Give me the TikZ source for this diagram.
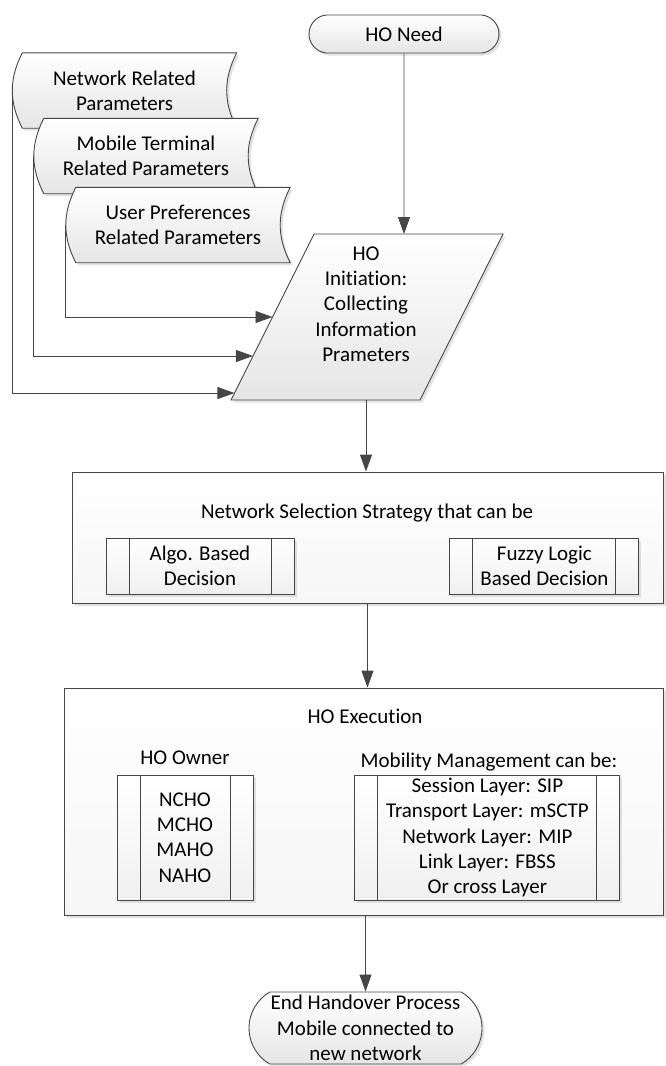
\documentclass[tikz,border=0pt]{standalone}
\usepackage{fontspec}
\setmainfont{Carlito}[Ligatures=NoCommon]
\usetikzlibrary{shapes.misc, arrows.meta, shadows, backgrounds, calc, positioning}

\definecolor{linegray}{RGB}{70,70,70}

\tikzset{
softshadow/.style={drop shadow={shadow xshift=2.5pt, shadow yshift=-2.5pt, fill=gray!45, opacity=0.5}}, % light offset shadow
term/.style={rounded rectangle, draw=linegray, line width=0.9pt, top color=white, bottom color=gray!20, softshadow, inner sep=0pt, align=center}, % start / end
storebox/.style={rectangle, minimum width=224pt, minimum height=75pt, inner sep=0pt, align=center}, % stored data, outline drawn below
shapeline/.style={draw=linegray, line width=0.9pt, top color=white, bottom color=gray!20, softshadow},
bigbox/.style={rectangle, draw=linegray, line width=0.9pt, top color=white, bottom color=gray!7, softshadow},
subproc/.style={rectangle, draw=linegray, line width=0.9pt, top color=white, bottom color=gray!12, softshadow, align=center, inner sep=0pt,
  path picture={\draw[linegray, line width=0.9pt]
    ([xshift=23pt]path picture bounding box.north west) -- ([xshift=23pt]path picture bounding box.south west)
    ([xshift=-23pt]path picture bounding box.north east) -- ([xshift=-23pt]path picture bounding box.south east);}},
txt/.style={align=center, inner sep=0pt},
flow/.style={draw=linegray, line width=0.9pt, -{Triangle[length=17pt,width=12pt]}},
}

% outline of a stored data node
\newcommand{\storeoutline}[1]{%
  \draw[shapeline] ([xshift=10pt]#1.north west) -- (#1.north east)
    to[bend right=27] (#1.south east) -- ([xshift=10pt]#1.south west)
    to[bend left=27] ([xshift=10pt]#1.north west) -- cycle;}

\begin{document}
\begin{tikzpicture}[x=1pt, y=1pt, font=\fontsize{21}{25.3}\selectfont]
    \useasboundingbox (0,0) rectangle (665,-1066);

    \node[term, minimum width=190pt, minimum height=38pt, rounded rectangle arc length=170] (need) at (404,-34) {HO Need};

    % parameter stores
    \node[storebox] (netpar) at (124.5,-90.5) {Network Related\\Parameters};
    \begin{scope}[on background layer] \storeoutline{netpar} \end{scope}
    \node[storebox] (mobpar) at (146,-156) {Mobile Terminal\\Related Parameters};
    \begin{scope}[on background layer] \storeoutline{mobpar} \end{scope}
    \node[storebox] (usrpar) at (178,-225) {User Preferences\\Related Parameters};
    \begin{scope}[on background layer] \storeoutline{usrpar} \end{scope}

    % HO initiation (data)
    \coordinate (pTL) at (314,-234);
    \coordinate (pTR) at (503,-234);
    \coordinate (pBR) at (420,-400);
    \coordinate (pBL) at (231,-400);
    \draw[shapeline] (pTL) -- (pTR) -- (pBR) -- (pBL) -- cycle;
    \node[txt] (init) at (366,-304) {HO\\Initiation:\\Collecting\\Information\\Prameters};
    \coordinate (in1) at ($(pBL)!0.5!(pTL)$);
    \coordinate (in2) at ($(pBL)!0.265!(pTL)$);
    \coordinate (in3) at ($(pBL)!0.042!(pTL)$);
    \coordinate (pOut) at (366,-400);

    % network selection
    \node[bigbox, minimum width=591pt, minimum height=131pt] (select) at (367.5,-537.5) {};
    \node[txt] (selTitle) at (367,-513) {Network Selection Strategy that can be};
    \node[subproc, minimum width=188pt, minimum height=56pt] (algo) at (200,-566) {Algo. Based\\Decision};
    \node[subproc, minimum width=189pt, minimum height=56pt, right=155pt of algo] (fuzzy) {Fuzzy Logic\\Based Decision};

    % execution
    \node[bigbox, minimum width=599pt, minimum height=227pt] (exec) at (363.5,-801.5) {};
    \node[txt] (execTitle) at (365,-716) {HO Execution};
    \node[txt] (ownTitle) at (185,-758) {HO Owner};
    \node[subproc, minimum width=136pt, minimum height=125pt] (owner) at (185,-837.5) {NCHO\\MCHO\\MAHO\\NAHO};
    \node[subproc, minimum width=265pt, minimum height=125pt, right=101pt of owner] (mobmgmt)
        {Session Layer: SIP\\Transport Layer: mSCTP\\Network Layer: MIP\\Link Layer: FBSS\\Or cross Layer};
    \node[txt] (mmTitle) at (489,-762) {Mobility Management can be:};

    \node[term, minimum width=233pt, minimum height=72pt, rounded rectangle arc length=120] (endp) at (365.5,-1028)
        {End Handover Process\\Mobile connected to\\new network};

    \draw[flow] (need) -- (need |- pTL);
    \draw[flow] (usrpar.west) |- (in1);
    \draw[flow] (mobpar.west) |- (in2);
    \draw[flow] (netpar.west) |- (in3);
    \draw[flow] (pOut) -- (pOut |- select.north);
    \draw[flow] (select.south) -- (select.south |- exec.north);
    \draw[flow] (exec.south -| endp) -- (endp);
\end{tikzpicture}
\end{document}
